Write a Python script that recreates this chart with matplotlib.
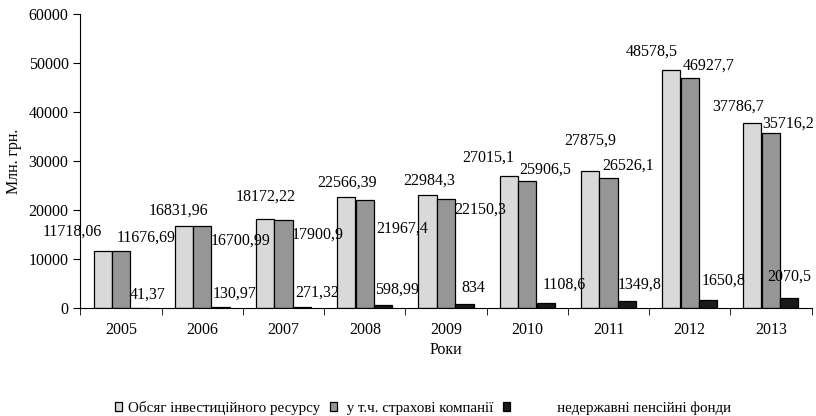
import matplotlib
matplotlib.use("Agg")
import matplotlib.pyplot as plt
import numpy as np

plt.rcParams['font.family'] = ['Liberation Serif', 'DejaVu Serif']

years = ["2005", "2006", "2007", "2008", "2009", "2010", "2011", "2012", "2013"]
invest = [11718.06, 16831.96, 18172.22, 22566.39, 22984.3, 27015.1, 27875.9, 48578.5, 37786.7]
insur = [11676.69, 16700.99, 17900.9, 21967.4, 22150.3, 25906.5, 26526.1, 46927.7, 35716.2]
pension = [41.37, 130.97, 271.32, 598.99, 834, 1108.6, 1349.8, 1650.8, 2070.5]

names = ["Обсяг інвестиційного ресурсу", " у т.ч. страхові компанії",
         "           недержавні пенсійні фонди"]
colors = ["#d9d9d9", "#969696", "#1a1a1a"]

# label shifts in pixels from the top of each bar (labels were hand-placed)
shift = [
    [(-30, 19), (-5, 15), (1, 22), (1, 15), (2, 15), (-20, 18), (0, 31), (-19, 18), (-14, 16)],
    [(25, 13), (38, -14), (34, -14), (37, -28), (34, -10), (18, 11), (20, 12), (19, 12), (17, 9)],
    [(8, 13), (14, 14), (15, 14), (14, 15), (9, 16), (19, 18), (13, 17), (15, 19), (0, 21)],
]

def fmt(v):
    return str(v).replace(".", ",")

fig = plt.figure(figsize=(8.16, 4.16), dpi=100)
ax = fig.add_axes([80.4 / 816, 1 - 308 / 416, 731.2 / 816, 294 / 416])

x = np.arange(len(years))
w = 0.222
step = 0.2277
handles = []
for i, vals in enumerate([invest, insur, pension]):
    pos = x + (i - 1) * step
    b = ax.bar(pos, vals, w, color=colors[i], edgecolor="black", linewidth=0.9, label=names[i])
    handles.append(b)
    for j, v in enumerate(vals):
        dx, dy = shift[i][j]
        ax.annotate(fmt(v), (pos[j], v), xytext=(dx, dy), textcoords="offset pixels",
                    ha="center", va="center", fontsize=11.5)

ax.set_xlim(-0.5, len(years) - 0.5)
ax.set_ylim(0, 60000)
ax.set_yticks(np.arange(0, 60001, 10000))
ax.set_xticks(x)
ax.set_xticklabels(years)
ax.set_xticks(np.arange(-0.5, len(years)), minor=True)
ax.tick_params(axis="x", which="major", length=0, pad=10, labelsize=11.5)
ax.tick_params(axis="x", which="minor", length=5, direction="out")
ax.tick_params(axis="y", length=5, direction="out", labelsize=11.5)
for s in ["top", "right"]:
    ax.spines[s].set_visible(False)
ax.set_xlabel("Роки", fontsize=11.5, labelpad=3)
ax.set_ylabel("Млн. грн.", fontsize=11.5, labelpad=5)

fig.legend(handles=handles, loc="center", bbox_to_anchor=(423 / 816, 1 - 408 / 416),
           ncol=3, frameon=False, fontsize=10.8, handlelength=0.5, handleheight=0.5,
           handletextpad=0.4, columnspacing=0.6, borderpad=0.1)

fig.savefig("out.png", dpi=100)
